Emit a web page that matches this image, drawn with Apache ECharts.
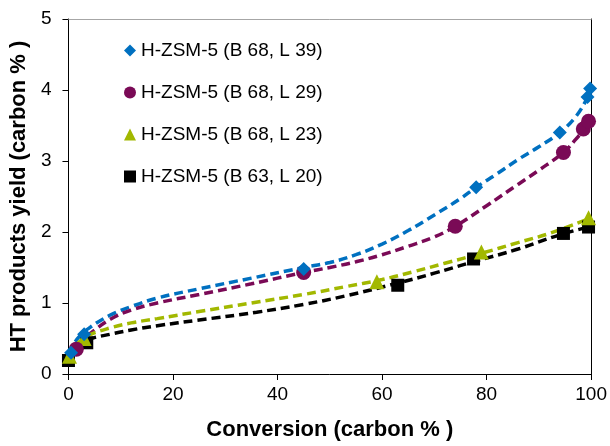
<!DOCTYPE html>
<html>
<head>
<meta charset="utf-8">
<script src="https://cdn.jsdelivr.net/npm/echarts@6/dist/echarts.min.js"></script>
<style>html,body{margin:0;padding:0;background:#fff;}#c{width:610px;height:446px;}</style>
</head>
<body>
<div id="c"></div>
<script>
var seriesNames = ['H-ZSM-5 (B 68, L 39)', 'H-ZSM-5 (B 68, L 29)', 'H-ZSM-5 (B 68, L 23)', 'H-ZSM-5 (B 63, L 20)'];
var colors = ['#0070C0', '#7A0A56', '#A2B800', '#000000'];
var symbols = ['diamond', 'circle', 'triangle', 'rect'];
var symbolSizes = [14, 15, 15, 13];
var xTicks = [0, 20, 40, 60, 80, 100];
var yTicks = [0, 1, 2, 3, 4, 5];

// measured points
var pointsL39 = [[0.5,0.3],[3,0.56],[45,1.48],[78,2.63],[94,3.40],[99.3,3.9],[99.8,4.02]];
var pointsL29 = [[1.5,0.35],[45,1.43],[74,2.08],[94.7,3.12],[98.5,3.45],[99.5,3.56]];
var pointsL23 = [[0.2,0.25],[3,0.5],[59,1.3],[79,1.72],[99.5,2.2]];
var pointsL20 = [[0,0.19],[3.5,0.44],[63,1.25],[77.5,1.62],[94.7,1.98],[99.5,2.07]];

// dashed trend curves
var trendL39 = [[0,0.28],[1,0.42],[2,0.52],[4,0.65],[8,0.83],[12,0.95],[17,1.07],[25,1.2],[35,1.35],[45,1.5],[50,1.57],[55,1.68],[60,1.83],[65,2.02],[70,2.24],[75,2.47],[78,2.63],[82,2.82],[86,3.02],[90,3.2],[94,3.4],[97,3.62],[99,3.85],[100,4.02]];
var trendL29 = [[0,0.25],[1,0.33],[2,0.43],[4,0.56],[8,0.77],[12,0.9],[17,1.0],[25,1.12],[35,1.27],[45,1.43],[50,1.5],[55,1.58],[60,1.68],[65,1.8],[70,1.93],[74,2.08],[80,2.37],[86,2.67],[90,2.87],[94.7,3.12],[97,3.3],[99,3.48],[100,3.57]];
var trendL23 = [[0,0.25],[1,0.36],[2,0.45],[4,0.55],[8,0.65],[12,0.72],[17,0.78],[25,0.88],[35,1.0],[45,1.12],[53,1.23],[60,1.33],[66,1.44],[72,1.56],[79,1.7],[86,1.85],[92,1.98],[100,2.2]];
var trendL20 = [[0,0.2],[1,0.32],[2,0.4],[4,0.49],[8,0.56],[12,0.62],[17,0.68],[25,0.76],[36,0.87],[45,0.98],[53,1.1],[63,1.28],[70,1.42],[77,1.57],[86,1.76],[94,1.96],[100,2.08]];

var pointSets = [pointsL39, pointsL29, pointsL23, pointsL20];
var trendSets = [trendL39, trendL29, trendL23, trendL20];

var FONT = 'Liberation Sans, Arial, sans-serif';
var series = [];
for (var i = 0; i < 4; i++) {
  series.push({
    name: 'trend' + i, type: 'line', data: trendSets[i], smooth: 0.4, showSymbol: false, symbol: 'none',
    lineStyle: { color: colors[i], width: 3.5, type: [9, 5] }, z: 2, silent: true
  });
}
for (var j = 3; j >= 0; j--) {
  series.push({
    name: seriesNames[j], type: 'scatter', data: pointSets[j], symbol: symbols[j], symbolSize: symbolSizes[j],
    itemStyle: { color: colors[j], opacity: 1 }, z: 3
  });
}

var chart = echarts.init(document.getElementById('c'), null, { renderer: 'canvas' });
chart.setOption({
  animation: false,
  backgroundColor: '#fff',
  textStyle: { fontFamily: FONT },
  grid: { left: 68, right: 15, top: 19, bottom: 69, containLabel: false },
  legend: {
    data: seriesNames, orient: 'vertical', left: 119, top: 36, itemWidth: 12, itemHeight: 12, itemGap: 23,
    textStyle: { fontSize: 19, color: '#000', fontFamily: FONT }
  },
  xAxis: [{
    type: 'value', min: 0, max: 100, interval: 20, position: 'bottom',
    name: 'Conversion (carbon % )', nameLocation: 'middle', nameGap: 45,
    nameTextStyle: { fontSize: 22, fontWeight: 'bold', color: '#000', fontFamily: FONT },
    axisLine: { show: true, onZero: false, lineStyle: { color: '#000', width: 1 } },
    axisTick: { show: true, inside: false, length: 6, lineStyle: { color: '#000' } },
    axisLabel: { fontSize: 19, color: '#000', margin: 11, fontFamily: FONT },
    splitLine: { show: false }
  }, {
    type: 'value', min: 0, max: 100, interval: 20, position: 'top',
    axisLine: { show: true, onZero: false, lineStyle: { color: '#a6a6a6', width: 1 } },
    axisTick: { show: false }, axisLabel: { show: false }, splitLine: { show: false }
  }],
  yAxis: [{
    type: 'value', min: 0, max: 5, interval: 1, position: 'left',
    name: 'HT products yield (carbon % )', nameLocation: 'middle', nameGap: 31,
    nameTextStyle: { fontSize: 22, fontWeight: 'bold', color: '#000', fontFamily: FONT },
    axisLine: { show: true, onZero: false, lineStyle: { color: '#000', width: 1 } },
    axisTick: { show: true, inside: false, length: 6, lineStyle: { color: '#000' } },
    axisLabel: { fontSize: 19, color: '#000', margin: 17, fontFamily: FONT },
    splitLine: { show: false }
  }, {
    type: 'value', min: 0, max: 5, interval: 1, position: 'right',
    axisLine: { show: true, onZero: false, lineStyle: { color: '#000', width: 1 } },
    axisTick: { show: false }, axisLabel: { show: false }, splitLine: { show: false }
  }],
  series: series
});
</script>
</body>
</html>
